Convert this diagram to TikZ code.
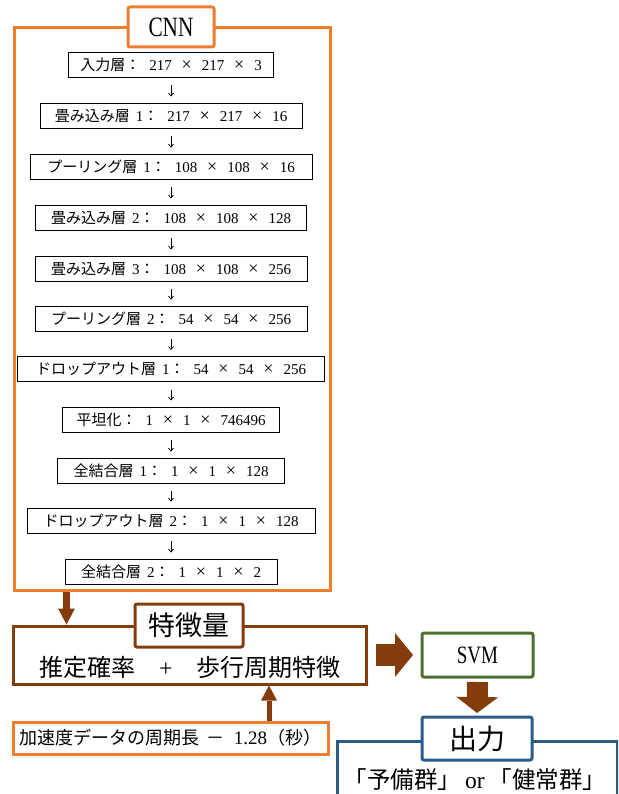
\documentclass[tikz,border=0pt]{standalone}
\usepackage{fontspec}
\setmainfont{Liberation Serif}
\newfontfamily\jp{Noto Sans CJK JP}
\newfontfamily\condserif[FakeStretch=0.76]{Liberation Serif}
\usetikzlibrary{arrows.meta}
\definecolor{orng}{HTML}{ED7D31}
\definecolor{brwn}{HTML}{843C0C}
\definecolor{grn}{HTML}{4F6F2C}
\definecolor{blu}{HTML}{2B5B88}
\newcommand\mulx{\hspace{0.5em}\makebox[1em]{\fontsize{18}{18}\selectfont ×}\hspace{0.5em}}
\newcommand\colsp{\hspace{0.6em}}
\newcommand\nsp{\hspace{0.4em}}
\begin{document}
\begin{tikzpicture}[x=1pt,y=-1pt,
  layerbox/.style={draw=black, line width=0.9pt, fill=white, minimum height=25pt,
    inner sep=0pt, font=\fontsize{15}{18}\selectfont},
  titlebox/.style={line width=3pt, fill=white, rounded corners=2pt, inner sep=0pt},
  framebox/.style={line width=3pt, inner sep=0pt},
  smallarr/.style={line width=0.7pt, -{Straight Barb[length=3pt,width=5pt]},
    shorten <=8pt, shorten >=6pt},
]
\useasboundingbox (0,0) rectangle (618,794);
\clip (0,0) rectangle (618,794);

% CNN frame
\node[framebox, draw=orng, minimum width=316pt, minimum height=562pt] (cnn) at (172.5,309) {};
\node[titlebox, draw=orng, minimum width=86pt, minimum height=40pt] (cnnt) at (171,27)
  {\condserif\fontsize{28}{30}\selectfont CNN};

% layers
\node[layerbox, minimum width=205pt] (l1) at (171,64.5)
  {{\jp 入力層：}\colsp 217\mulx 217\mulx 3};
\node[layerbox, minimum width=262pt] (l2) at (171,115.5)
  {{\jp 畳み込み層}\nsp 1{\jp ：}\colsp 217\mulx 217\mulx 16};
\node[layerbox, minimum width=282pt] (l3) at (171,166.5)
  {{\jp プーリング層}\nsp 1{\jp ：}\colsp 108\mulx 108\mulx 16};
\node[layerbox, minimum width=271pt] (l4) at (171,217.5)
  {{\jp 畳み込み層}\nsp 2{\jp ：}\colsp 108\mulx 108\mulx 128};
\node[layerbox, minimum width=272pt] (l5) at (171,268.5)
  {{\jp 畳み込み層}\nsp 3{\jp ：}\colsp 108\mulx 108\mulx 256};
\node[layerbox, minimum width=272pt] (l6) at (171,318.5)
  {{\jp プーリング層}\nsp 2{\jp ：}\colsp 54\mulx 54\mulx 256};
\node[layerbox, minimum width=307pt] (l7) at (171,369)
  {{\jp ドロップアウト層}\nsp 1{\jp ：}\colsp 54\mulx 54\mulx 256};
\node[layerbox, minimum width=217pt] (l8) at (171,419.5)
  {{\jp 平坦化：}\colsp 1\mulx 1\mulx 746496};
\node[layerbox, minimum width=227pt] (l9) at (171,470.5)
  {{\jp 全結合層}\nsp 1{\jp ：}\colsp 1\mulx 1\mulx 128};
\node[layerbox, minimum width=288pt] (l10) at (171,520.5)
  {{\jp ドロップアウト層}\nsp 2{\jp ：}\colsp 1\mulx 1\mulx 128};
\node[layerbox, minimum width=212pt] (l11) at (171,571.5)
  {{\jp 全結合層}\nsp 2{\jp ：}\colsp 1\mulx 1\mulx 2};

\foreach \a/\b in {l1/l2,l2/l3,l3/l4,l4/l5,l5/l6,l6/l7,l7/l8,l8/l9,l9/l10,l10/l11}
  \draw[smallarr] (\a) -- (\b);

% feature box
\node[framebox, draw=brwn, minimum width=353pt, minimum height=58pt] (feat) at (189.5,655) {};
\node[titlebox, draw=brwn, minimum width=108pt, minimum height=43pt] (featt) at (189,625.5)
  {\jp\fontsize{27}{30}\selectfont 特徴量};
\node[inner sep=0pt, font=\jp\fontsize{24}{26}\selectfont] (ftxt) at (190,667)
  {推定確率　{\rmfamily +}　歩行周期特徴};

% CNN -> feature arrow
\coordinate (dx) at (66.5,0);
\draw[brwn, line width=7pt, -{Triangle[length=16pt,width=17pt,line width=0pt]}]
  (dx |- cnn.south) -- (dx |- feat.north);

% acceleration box
\node[framebox, draw=orng, fill=white, minimum width=315pt, minimum height=32pt] (acc) at (170.5,738)
  {\jp\fontsize{18}{20}\selectfont 加速度データの周期長\hspace{0.4em}－\hspace{0.5em}{\rmfamily\fontsize{19}{20}\selectfont 1.28}（秒）};
\coordinate (ux) at (269,0);
\draw[brwn, line width=5pt, -{Triangle[length=15pt,width=16pt,line width=0pt]}]
  (ux |- acc.north) -- (ux |- feat.south);

% SVM
\node[titlebox, draw=grn, minimum width=111pt, minimum height=44pt] (svm) at (477.5,655)
  {\condserif\fontsize{25}{27}\selectfont SVM};
\draw[brwn, line width=22pt, -{Triangle[length=18pt,width=44pt,line width=0pt]},
  shorten <=8.5pt, shorten >=7.5pt] (feat.east) -- (svm.west);

% output
\node[framebox, draw=blu, minimum width=280pt, minimum height=110pt] (outf) at (477,796) {};
\node[titlebox, draw=blu, minimum width=110pt, minimum height=43pt] (outt) at (477,738.5)
  {\jp\fontsize{28}{30}\selectfont 出力};
\node[inner sep=0pt, font=\jp\fontsize{23.5}{25}\selectfont] (otxt) at (475,780)
  {「予備群」\,{\rmfamily or}\,「健常群」};
\draw[brwn, line width=21pt, -{Triangle[length=16pt,width=42pt,line width=0pt]},
  shorten <=3.5pt, shorten >=2.5pt] (svm.south) -- (outt.north);
\end{tikzpicture}
\end{document}
